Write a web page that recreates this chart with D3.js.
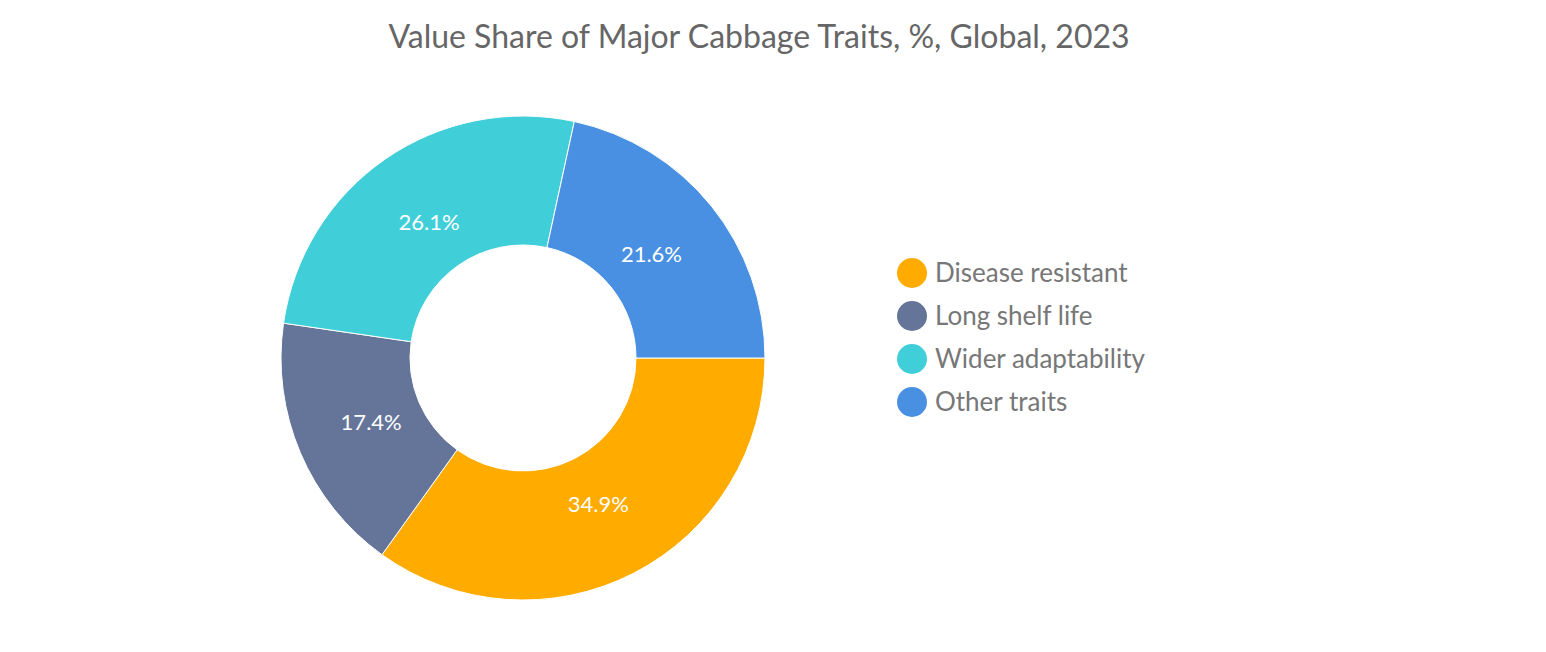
<!DOCTYPE html>
<html><head><meta charset="utf-8">
<script src="https://cdn.jsdelivr.net/npm/d3@7"></script>
<style>body{margin:0;background:#fff;font-family:Lato,"Open Sans",sans-serif;}</style>
</head><body>
<svg id="c" width="1546" height="652"></svg>
<script>
const categories = ["Disease resistant","Long shelf life","Wider adaptability","Other traits"];
const values = [34.9,17.4,26.1,21.6];
const colors = ["#FFAB00","#657599","#40CFD9","#4A90E2"];
const title = "Value Share of Major Cabbage Traits, %, Global, 2023";

const svg = d3.select("#c");
svg.append("text").attr("x",759).attr("y",48).attr("text-anchor","middle")
  .attr("font-size",32).attr("fill","#666").text(title);

const cx=523, cy=358, rOut=242, rIn=113;
const pie = d3.pie().sort(null).startAngle(Math.PI/2).endAngle(Math.PI/2+2*Math.PI);
const arcs = pie(values);
const arc = d3.arc().innerRadius(rIn).outerRadius(rOut);
const lab = d3.arc().innerRadius(165).outerRadius(165);
const g = svg.append("g").attr("transform",`translate(${cx},${cy})`);
g.selectAll("path").data(arcs).join("path").attr("d",arc)
  .attr("fill",(d,i)=>colors[i]).attr("stroke","#fff").attr("stroke-width",1);
g.selectAll("text").data(arcs).join("text")
  .attr("transform",d=>`translate(${lab.centroid(d)})`)
  .attr("text-anchor","middle").attr("dy","0.35em")
  .attr("font-size",22).attr("fill","#fff").text(d=>d.data.toFixed(1)+"%");

const lg = svg.append("g");
categories.forEach((c,i)=>{
  const y = 273 + i*43;
  lg.append("circle").attr("cx",912).attr("cy",y).attr("r",15).attr("fill",colors[i]);
  lg.append("text").attr("x",935).attr("y",y).attr("dy","0.35em")
    .attr("font-size",26).attr("fill","#777").text(c);
});
</script>
</body></html>
